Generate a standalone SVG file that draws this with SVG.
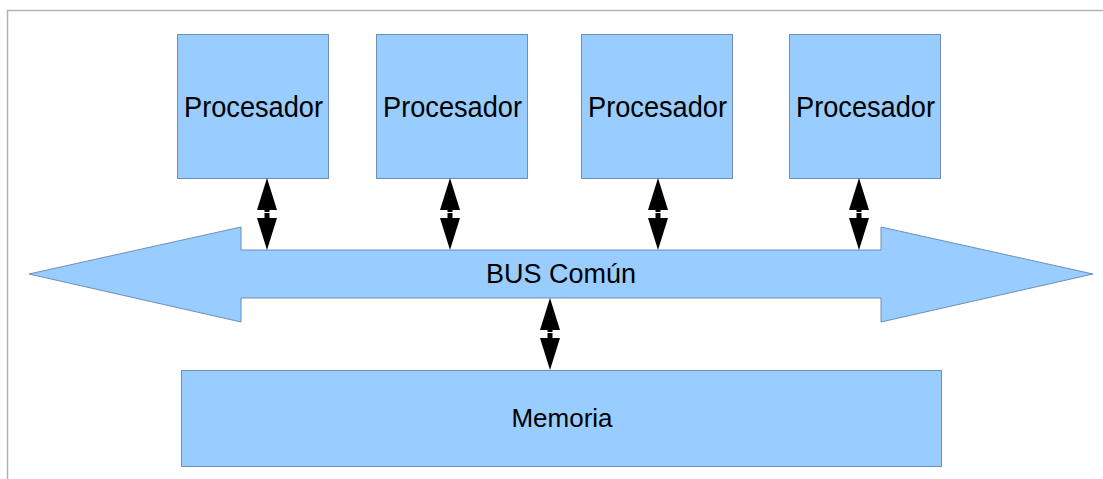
<svg xmlns="http://www.w3.org/2000/svg" xmlns:xlink="http://www.w3.org/1999/xlink" width="1103" height="479" viewBox="0 0 1103 479">
  <style>
    .box { fill: #99ccff; stroke: #6d8fba; stroke-width: 1; }
    .lbl { font-family: "Liberation Sans", Arial, sans-serif; font-size: 27px; fill: #000; text-anchor: middle; }
    .cpu { font-size: 29px; }
    .frame { stroke: #b3b3b3; stroke-width: 1.5; fill: none; }
  </style>
  <defs>
    <!-- two-way connector, 72px tall, origin at top tip -->
    <g id="dbl">
      <polygon points="0,0 10,32 -10,32" fill="#000"/>
      <rect x="-2.5" y="31" width="5" height="3" fill="#000"/>
      <rect x="-2.5" y="35" width="5" height="6" fill="#000"/>
      <polygon points="0,72 10,40 -10,40" fill="#000"/>
    </g>
  </defs>

  <rect width="1103" height="479" fill="#fff"/>
  <path class="frame" d="M7.5,479 V10.5 H1103"/>

  <g id="bus">
    <polygon class="box" points="29,274 241,227 241,250 881,250 881,227 1093,274 881,322 881,298 241,298 241,322"/>
    <text class="lbl" x="561" y="283">BUS Común</text>
  </g>

  <g id="cpu1">
    <rect class="box" x="177.5" y="34.5" width="151" height="144"/>
    <text class="lbl cpu" x="253.5" y="116.5" textLength="139" lengthAdjust="spacingAndGlyphs">Procesador</text>
  </g>
  <g id="cpu2">
    <rect class="box" x="376.5" y="34.5" width="151" height="144"/>
    <text class="lbl cpu" x="452.5" y="116.5" textLength="139" lengthAdjust="spacingAndGlyphs">Procesador</text>
  </g>
  <g id="cpu3">
    <rect class="box" x="581.5" y="34.5" width="151" height="144"/>
    <text class="lbl cpu" x="657.5" y="116.5" textLength="139" lengthAdjust="spacingAndGlyphs">Procesador</text>
  </g>
  <g id="cpu4">
    <rect class="box" x="789.5" y="34.5" width="151" height="144"/>
    <text class="lbl cpu" x="865.5" y="116.5" textLength="139" lengthAdjust="spacingAndGlyphs">Procesador</text>
  </g>

  <g id="memoria">
    <rect class="box" x="181.5" y="370.5" width="760" height="96"/>
    <text class="lbl" x="562" y="427" style="font-size:26px">Memoria</text>
  </g>

  <g id="connectors">
    <use xlink:href="#dbl" transform="translate(267,178)"/>
    <use xlink:href="#dbl" transform="translate(450,178)"/>
    <use xlink:href="#dbl" transform="translate(658,178)"/>
    <use xlink:href="#dbl" transform="translate(859,178)"/>
    <use xlink:href="#dbl" transform="translate(550,298)"/>
  </g>
</svg>
